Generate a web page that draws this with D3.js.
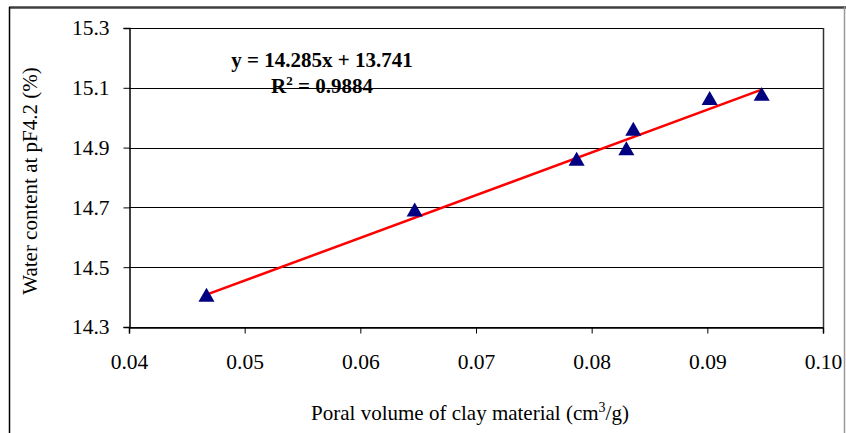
<!DOCTYPE html>
<html>
<head>
<meta charset="utf-8">
<script src="https://cdn.jsdelivr.net/npm/d3@7"></script>
<style>
  body { margin: 0; background: #fff; }
  svg { display: block; }
  svg text { font-family: "Liberation Serif", "DejaVu Serif", "Times New Roman", serif; fill: #000; }
</style>
</head>
<body>
<svg id="chart" width="846" height="433"></svg>
<script>
// data
const poralVolume = [0.0467, 0.0647, 0.0787, 0.0830, 0.0836, 0.0902, 0.0947];
const waterContent = [14.40, 14.685, 14.855, 14.89, 14.955, 15.058, 15.072];
const xTicks = [0.04, 0.05, 0.06, 0.07, 0.08, 0.09, 0.10];
const yTicks = [14.3, 14.5, 14.7, 14.9, 15.1, 15.3];
const slope = 14.285;
const intercept = 13.741;
const r2Text = "0.9884";

const width = 846, height = 433;
const margin = { top: 28, right: 23, bottom: 106, left: 129 };

const svg = d3.select("#chart");

// outer frame
svg.append("line").attr("x1", 9).attr("x2", 846).attr("y1", 7.5).attr("y2", 7.5)
  .attr("stroke", "#404040").attr("stroke-width", 2.5);
svg.append("line").attr("x1", 9.5).attr("x2", 9.5).attr("y1", 7).attr("y2", height)
  .attr("stroke", "#000").attr("stroke-width", 1.5);
svg.append("line").attr("x1", 844.5).attr("x2", 844.5).attr("y1", 7).attr("y2", height)
  .attr("stroke", "#999").attr("stroke-width", 1.5);

/* SCALES */
const xScale = d3.scaleLinear()
  .domain([0.04, 0.10])
  .range([margin.left, width - margin.right]);

const yScale = d3.scaleLinear()
  .domain([14.3, 15.3])
  .range([height - margin.bottom, margin.top]);

// GRIDLINES
svg.append("g")
  .selectAll("line")
  .data(yTicks)
  .join("line")
  .attr("x1", margin.left)
  .attr("x2", width - margin.right)
  .attr("y1", d => Math.round(yScale(d)) + 0.5)
  .attr("y2", d => Math.round(yScale(d)) + 0.5)
  .attr("stroke", "#000")
  .attr("stroke-width", 1);

// right border of plot area
svg.append("line")
  .attr("x1", width - margin.right + 0.5).attr("x2", width - margin.right + 0.5)
  .attr("y1", margin.top).attr("y2", height - margin.bottom)
  .attr("stroke", "#333").attr("stroke-width", 1.5);

// AXES
const xAxis = svg.append("g")
  .attr("transform", `translate(0, ${height - margin.bottom + 0.5})`)
  .call(d3.axisBottom(xScale).tickValues(xTicks).tickFormat(d3.format(".2f")).tickSize(6).tickPadding(20));

const yAxis = svg.append("g")
  .attr("transform", `translate(${margin.left + 0.5}, 0)`)
  .call(d3.axisLeft(yScale).tickValues(yTicks).tickFormat(d3.format(".1f")).tickSize(6).tickPadding(14));

[xAxis, yAxis].forEach(g => {
  g.attr("font-family", null).attr("font-size", null);
  g.select(".domain").attr("stroke", "#000").attr("stroke-width", 1.5);
  g.selectAll(".tick line").attr("stroke", "#000");
  g.selectAll(".tick text")
    .attr("fill", "#000")
    .style("font-size", "21.5px");
});

// AXIS LABELS
svg.append("text")
  .attr("x", 470)
  .attr("y", 420)
  .attr("text-anchor", "middle")
  .style("font-size", "21px")
  .html('Poral volume of clay material (cm<tspan dy="-8" font-size="14px">3</tspan><tspan dy="8">/g)</tspan>');

svg.append("text")
  .attr("transform", `translate(37, 181) rotate(-90)`)
  .attr("text-anchor", "middle")
  .style("font-size", "21px")
  .text("Water content at pF4.2 (%)");

// TREND LINE
const xExtent = d3.extent(poralVolume);
svg.append("line")
  .attr("x1", xScale(xExtent[0]))
  .attr("y1", yScale(slope * xExtent[0] + intercept))
  .attr("x2", xScale(xExtent[1]))
  .attr("y2", yScale(slope * xExtent[1] + intercept))
  .attr("stroke", "#ff0000")
  .attr("stroke-width", 2.5);

// POINTS
const tri = d3.symbol(d3.symbolTriangle, 112);
svg.append("g")
  .selectAll("path")
  .data(poralVolume.map((x, i) => ({ x, y: waterContent[i] })))
  .join("path")
  .attr("d", tri)
  .attr("transform", d => `translate(${xScale(d.x)}, ${yScale(d.y)})`)
  .attr("fill", "#000080");

// EQUATION
svg.append("text")
  .attr("x", 322)
  .attr("y", 67)
  .attr("text-anchor", "middle")
  .style("font-weight", "bold")
  .style("font-size", "21px")
  .text(`y = ${slope}x + ${intercept}`);

svg.append("text")
  .attr("x", 322)
  .attr("y", 93)
  .attr("text-anchor", "middle")
  .style("font-weight", "bold")
  .style("font-size", "21px")
  .html(`R<tspan dy="-8" font-size="13px">2</tspan><tspan dy="8"> = ${r2Text}</tspan>`);
</script>
</body>
</html>
